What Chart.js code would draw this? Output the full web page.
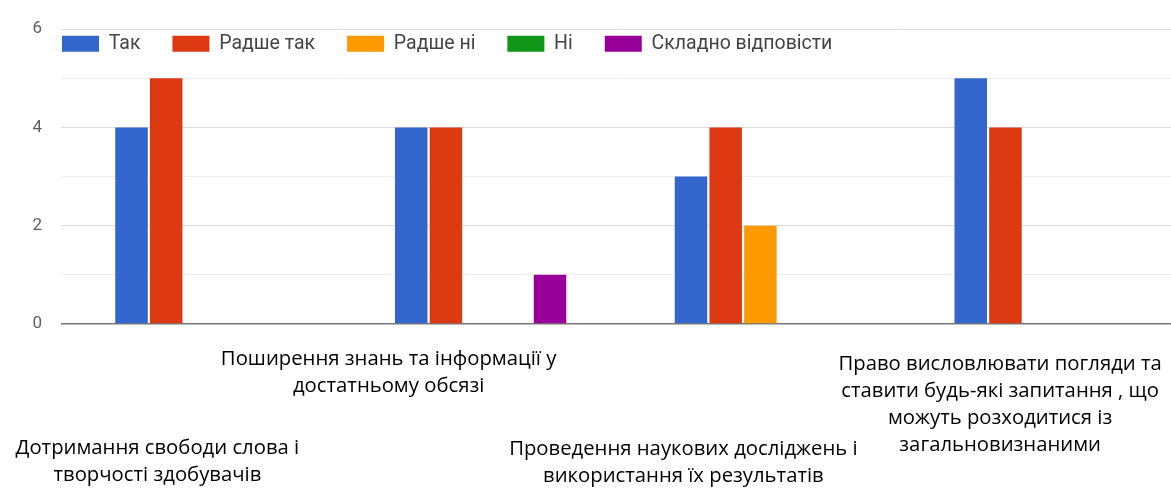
<!DOCTYPE html>
<html>
<head>
<meta charset="utf-8">
<script src="https://cdn.jsdelivr.net/npm/chart.js@4.4.1/dist/chart.umd.min.js"></script>
<style>
  html, body { margin: 0; padding: 0; background: #fff; overflow: hidden; }
  #wrap { position: relative; width: 1183px; height: 495px; }
</style>
</head>
<body>
<div id="wrap"><canvas id="c"></canvas></div>
<script>
// ---- data ----
const categories = [
  ["Дотримання свободи слова і", "творчості здобувачів"],
  ["Поширення знань та інформації у", "достатньому обсязі"],
  ["Проведення наукових досліджень і", "використання їх результатів"],
  ["Право висловлювати погляди та", "ставити будь-які запитання , що", "можуть розходитися із", "загальновизнаними"]
];
const seriesNames = ["Так", "Радше так", "Радше ні", "Ні", "Складно відповісти"];
const tak        = [4, 4, 3, 5];
const radsheTak  = [5, 4, 4, 4];
const radsheNi   = [0, 0, 2, 0];
const ni         = [0, 0, 0, 0];
const skladno    = [0, 1, 0, 0];
const yTicks     = [0, 2, 4, 6];

// ---- styles / layout ----
const colors = ["#3366cc", "#dc3912", "#ff9900", "#109618", "#990099"];
const labelOffsets = [ // dx from tick centre, dy (first baseline) from chart bottom
  {dx: -43.5, dy: 130},
  {dx: -92,   dy: 41},
  {dx: -77,   dy: 131},
  {dx: -40,   dy: 46}
];

const values = [tak, radsheTak, radsheNi, ni, skladno];
const datasets = seriesNames.map((name, i) => ({
  label: name,
  data: values[i],
  backgroundColor: colors[i],
  borderWidth: 0,
  categoryPercentage: 0.62,
  barPercentage: 0.937
}));

// legend overlays the plot area (as in the reference)
const legendShift = {
  id: 'legendShift',
  afterLayout(chart) {
    const lg = chart.legend;
    if (!lg) return;
    const p = lg.options.labels.padding;
    lg.left = 62 - p;
    lg.top = 34 - p;
    lg.right = chart.width;
    lg.bottom = lg.top + 75;
    lg.width = lg.right - lg.left;
    lg.height = 75;
  }
};

const xLabels = {
  id: 'xLabels',
  afterDraw(chart) {
    const ctx = chart.ctx;
    const xs = chart.scales.x;
    const bottom = chart.chartArea.bottom;
    ctx.save();
    ctx.font = '20.3px "Open Sans"';
    ctx.fillStyle = '#000';
    ctx.textAlign = 'center';
    ctx.textBaseline = 'alphabetic';
    categories.forEach((lines, i) => {
      const cx = xs.getPixelForTick(i) + labelOffsets[i].dx;
      let y = bottom + labelOffsets[i].dy;
      lines.forEach(line => {
        ctx.fillText(line, cx, y);
        y += 27;
      });
    });
    ctx.restore();
  }
};

new Chart(document.getElementById('c'), {
  type: 'bar',
  data: { labels: categories.map(c => c.join(' ')), datasets },
  options: {
    responsive: true,
    maintainAspectRatio: false,
    animation: false,
    layout: { padding: { top: 23, right: 3, bottom: 163, left: 0 } },
    plugins: {
      tooltip: { enabled: false },
      legend: {
        position: 'top',
        align: 'start',
        maxHeight: 0.001,
        labels: {
          boxWidth: 37,
          boxHeight: 16,
          padding: 32,
          color: '#444',
          font: { family: 'Roboto', size: 19.5 }
        }
      }
    },
    scales: {
      x: {
        ticks: { display: false },
        grid: { display: false },
        border: { display: false }
      },
      y: {
        min: 0,
        max: 6,
        afterFit(scale) { scale.width = 61; },
        ticks: {
          stepSize: 1,
          padding: 19,
          color: '#5f5f5f',
          font: { family: 'Roboto', size: 17 },
          callback: v => yTicks.includes(v) ? String(v) : ''
        },
        grid: {
          drawTicks: false,
          color: ctx => ctx.tick.value === 0 ? '#777' : (ctx.tick.value % 2 === 0 ? '#dcdcdc' : '#eeeeee'),
          lineWidth: ctx => ctx.tick.value === 0 ? 1.6 : 1
        },
        border: { display: false }
      }
    }
  },
  plugins: [legendShift, xLabels]
});
</script>
</body>
</html>
